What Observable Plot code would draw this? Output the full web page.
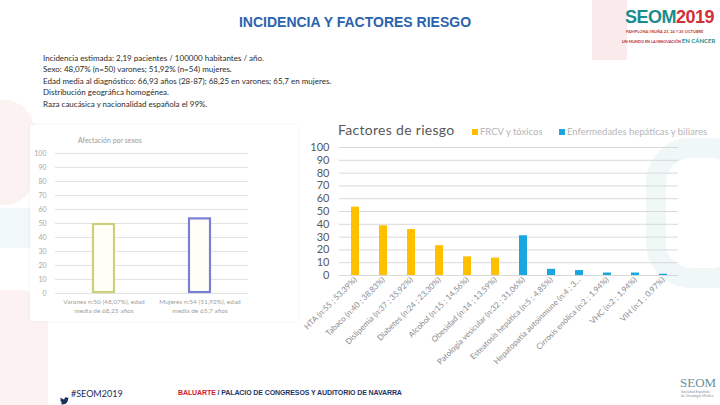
<!DOCTYPE html>
<html><head><meta charset="utf-8">
<script src="https://cdn.jsdelivr.net/npm/d3@7"></script>
<script src="https://cdn.jsdelivr.net/npm/@observablehq/plot@0.6"></script>
<style>
body{margin:0;width:720px;height:405px;overflow:hidden;background:#fff;position:relative;font-family:Lato,"Liberation Sans",sans-serif;}
.abs{position:absolute;white-space:nowrap;}
</style></head><body>
<script>
// ---------- DATA ----------
const factorLabels = [
  "HTA (n:55 ; 53,39%)",
  "Tabaco (n:40 ; 38,83%)",
  "Dislipemia (n:37 ; 35,92%)",
  "Diabetes (n:24 ; 23,30%)",
  "Alcohol (n:15 ; 14,56%)",
  "Obesidad (n:14 ; 13,59%)",
  "Patología vesicular (n:32 ; 31,06%)",
  "Esteatosis hepática (n:5 ; 4,85%)",
  "Hepatopatía autoinmune (n:4 ; 3…",
  "Cirrosis enólica (n:2 ; 1,94%)",
  "VHC (n:2 ; 1,94%)",
  "VIH (n:1 ; 0,97%)"
];
const factorValues = [53.39, 38.83, 35.92, 23.30, 14.56, 13.59, 31.06, 4.85, 3.88, 1.94, 1.94, 0.97];
const factorGroups = ["FRCV y tóxicos","FRCV y tóxicos","FRCV y tóxicos","FRCV y tóxicos","FRCV y tóxicos","FRCV y tóxicos",
  "Enfermedades hepáticas y biliares","Enfermedades hepáticas y biliares","Enfermedades hepáticas y biliares",
  "Enfermedades hepáticas y biliares","Enfermedades hepáticas y biliares","Enfermedades hepáticas y biliares"];
const groupNames = ["FRCV y tóxicos", "Enfermedades hepáticas y biliares"];
const groupColors = ["#FFC000", "#1CA6E0"];
const yTicks = [0,10,20,30,40,50,60,70,80,90,100];

const sexLabels = ["Varones n:50 (48,07%), edad\nmedia de 68,25 años", "Mujeres n:54 (51,92%), edad\nmedia de 65,7 años"];
const sexValues = [50, 54];
const sexStrokes = ["#cdd07a", "#7b80d6"];

const infoLines = [
  "Incidencia estimada: 2,19 pacientes / 100000 habitantes / año.",
  "Sexo: 48,07% (n=50) varones; 51,92% (n=54) mujeres.",
  "Edad media al diagnóstico: 66,93 años (28-87); 68,25 en varones; 65,7 en mujeres.",
  "Distribución geográfica homogénea.",
  "Raza caucásica y nacionalidad española el 99%."
];

// ---------- HELPERS ----------
function addDiv(css, html){
  const d = document.createElement("div");
  d.className = "abs";
  d.style.cssText += css;
  if (html !== undefined) d.innerHTML = html;
  document.body.appendChild(d);
  return d;
}

// ---------- DECORATIONS ----------
addDiv("left:0;top:100px;width:34px;height:105px;background:#fdf2f2;border-radius:0 30px 30px 0;");
addDiv("left:0;top:208px;width:70px;height:40px;background:#f1f8f8;");
addDiv("left:0;top:290px;width:48px;height:115px;background:#fdf2f2;border-radius:0 28px 0 0;");
addDiv("left:592px;top:0;width:35px;height:60px;background:#fbeaec;");
addDiv("left:646px;top:138px;width:110px;height:150px;border:20px solid #eff7f7;border-radius:45px;box-sizing:border-box;");
addDiv("left:30px;top:125px;width:268px;height:196px;background:#fff;box-shadow:0 0 3px rgba(0,0,0,0.07);");

// ---------- HEADER ----------
addDiv("left:0;width:710px;top:14px;text-align:center;font-family:'Liberation Sans',sans-serif;font-weight:bold;font-size:14px;color:#2a63ad;", "INCIDENCIA Y FACTORES RIESGO");
infoLines.forEach((t,i)=> addDiv(`left:43px;top:${53 + i*11.4}px;font-size:8px;color:#2b2b2b;`, t));

// logo top right
addDiv("left:625px;top:7px;font-family:'Liberation Sans',sans-serif;font-weight:bold;font-size:18px;letter-spacing:-0.5px;",
  "<span style='color:#1b8c8c'>SEOM</span><span style='color:#d32f3a'>2019</span>");
addDiv("left:626px;top:29px;font-size:4px;font-weight:bold;color:#c0392b;", "PAMPLONA/IRUÑA 23, 24 Y 25 OCTUBRE");
addDiv("left:622px;top:37px;font-size:3.8px;font-weight:bold;color:#b5272f;", "UN MUNDO EN LA INNOVACIÓN <span style='font-size:6px;color:#1b8c8c'>EN CÁNCER</span>");

// footer
addDiv("left:60px;top:389px;", "<svg width='9' height='8' viewBox='0 0 24 20'><path d='M24 2.4c-.9.4-1.8.7-2.8.8 1-.6 1.8-1.6 2.2-2.7-1 .6-2 1-3.1 1.2C19.3.7 18 0 16.6 0c-2.7 0-4.9 2.2-4.9 4.9 0 .4 0 .8.1 1.1C7.7 5.8 4.1 3.9 1.7.9c-.4.7-.7 1.6-.7 2.5 0 1.7.9 3.2 2.2 4.1-.8 0-1.6-.2-2.2-.6v.1c0 2.4 1.7 4.4 3.9 4.8-.4.1-.8.2-1.3.2-.3 0-.6 0-.9-.1.6 2 2.4 3.4 4.6 3.4-1.700 1.3-3.8 2.1-6.1 2.1-.4 0-.8 0-1.2-.1 2.2 1.4 4.8 2.2 7.5 2.2 9.1 0 14-7.5 14-14v-.6c1-.7 1.8-1.6 2.5-2.5z' fill='#1c2f5a'/></svg>");
addDiv("left:71px;top:388px;font-size:9px;color:#1c2f5a;", "#SEOM2019");
addDiv("left:178px;top:389px;font-family:'Liberation Sans',sans-serif;font-size:7px;font-weight:bold;color:#1c3566;letter-spacing:-0.1px;",
  "<span style='color:#d0202e'>BALUARTE</span> / PALACIO DE CONGRESOS Y AUDITORIO DE NAVARRA");
addDiv("left:680px;top:375px;font-size:13px;color:#6f8f95;font-family:'Liberation Serif',serif;", "SEOM");
addDiv("left:681px;top:390px;font-size:3.5px;color:#7f9599;line-height:4px;", "Sociedad Española<br>de Oncología Médica");

// ---------- LEFT CHART (faded) ----------
addDiv("left:78px;top:136px;font-size:7px;color:#9a9a9a;", "Afectación por sexos");
const leftPlot = Plot.plot({
  width: 240, height: 193,
  marginLeft: 25, marginRight: 22, marginTop: 23, marginBottom: 30,
  style: {fontFamily: "Lato, sans-serif", background: "transparent", overflow: "visible"},
  x: {domain: sexLabels, paddingInner: 0.76, paddingOuter: 0.38},
  y: {domain: [0, 100]},
  marks: [
    Plot.gridY(yTicks, {stroke: "#e3e3e3", strokeOpacity: 1}),
    Plot.barY(sexLabels, {x: d => d, y: (d,i) => sexValues[i], fill: "#fffff8", stroke: (d,i) => sexStrokes[i], strokeWidth: 2.2, inset: 1}),
    Plot.axisY(yTicks, {tickSize: 0, tickPadding: 9, fontSize: 7, color: "#a8a8a8", label: null}),
    Plot.axisX({tickSize: 0, tickPadding: 4, fontSize: 6.5, color: "#a0a0a0", label: null, lineHeight: 1.4})
  ]
});
const lw = addDiv("left:30px;top:130px;");
lw.appendChild(leftPlot);

// ---------- MAIN CHART ----------
addDiv("left:338px;top:121px;font-size:14px;color:#595959;letter-spacing:0.3px;", "Factores de riesgo");
addDiv("left:472px;top:126px;font-size:9.5px;color:#b5b5b5;",
  `<span style="display:inline-block;width:6px;height:6px;background:${groupColors[0]};margin-right:2px"></span>${groupNames[0]}`);
addDiv("left:559px;top:126px;font-size:9.5px;color:#b5b5b5;",
  `<span style="display:inline-block;width:6px;height:6px;background:${groupColors[1]};margin-right:2px"></span>${groupNames[1]}`);

const factorData = factorLabels.map((l,i) => ({label: l, value: factorValues[i], group: factorGroups[i]}));
const mainPlot = Plot.plot({
  width: 430, height: 285,
  marginLeft: 49, marginRight: 42, marginTop: 27, marginBottom: 130,
  style: {fontFamily: "Lato, sans-serif", background: "transparent", overflow: "visible"},
  x: {domain: factorLabels, paddingInner: 0.72, paddingOuter: 0.36},
  y: {domain: [0, 100]},
  color: {domain: groupNames, range: groupColors},
  marks: [
    Plot.gridY(yTicks, {stroke: "#d9d9d9", strokeOpacity: 1}),
    Plot.barY(factorData, {x: "label", y: "value", fill: "group"}),
    Plot.axisY(yTicks, {tickSize: 0, tickPadding: 10, fontSize: 11, color: "#595959", label: null}),
    Plot.axisX({tickSize: 0, tickPadding: 3, tickRotate: -45, fontSize: 8, color: "#8a8a8a", label: null})
  ]
});
const mw = addDiv("left:290px;top:120px;");
mw.appendChild(mainPlot);
</script>
</body></html>
